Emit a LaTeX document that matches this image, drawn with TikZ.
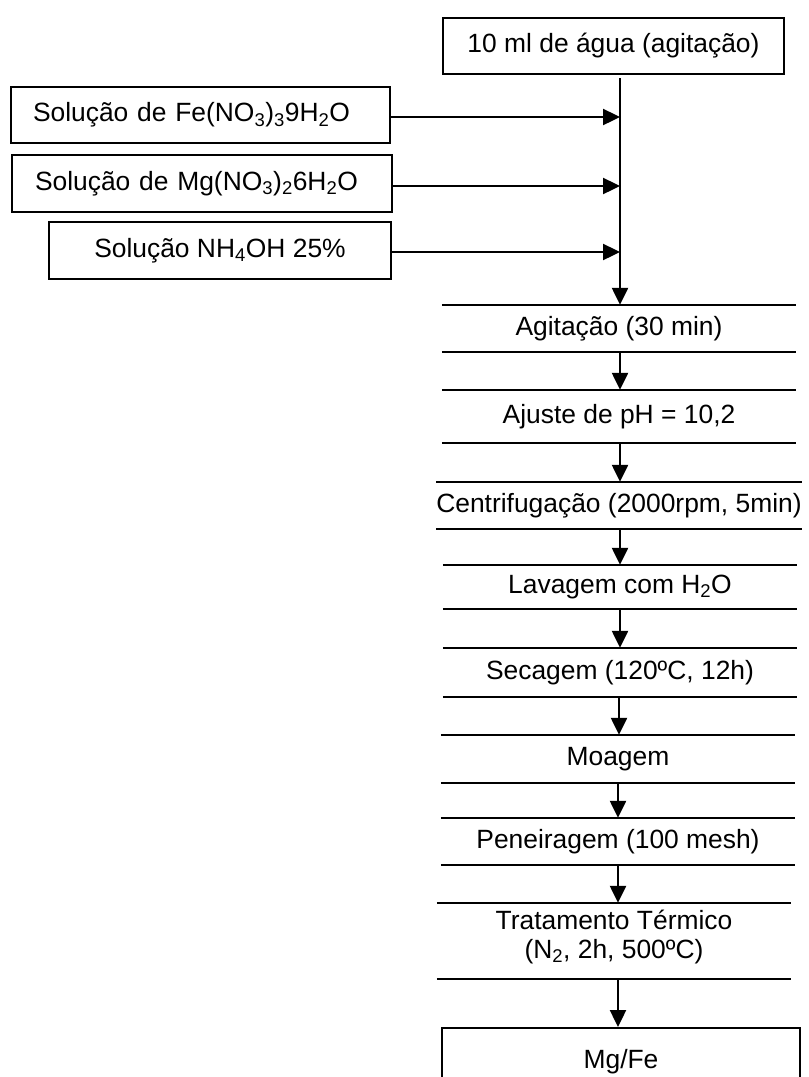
\documentclass[tikz,border=0pt]{standalone}
\usepackage{fontspec}
\setmainfont{Liberation Sans}
\usetikzlibrary{arrows.meta}
\begin{document}
\begin{tikzpicture}[x=1pt,y=-1pt,
  every node/.style={font=\fontsize{26.4}{25.5}\selectfont, inner sep=0pt},
  box/.style={draw, line width=2.4pt},
  stepbox/.style={minimum height=#1, minimum width=354pt, align=center},
  ln/.style={line width=2.4pt},
  arr/.style={line width=2.4pt, -{Triangle[length=17pt,width=16pt]}}]
\useasboundingbox (0,0) rectangle (809,1077);
\clip (0,0) rectangle (809,1077);
% top box
\node[box, minimum width=341pt, minimum height=56pt] (top) at (613.5,46) {10 ml de água (agitação)};
% side boxes
\node[box, minimum height=56pt, text width=335pt, inner xsep=22pt, align=left] (b1) at (200.5,115) {Solução de Fe(NO\textsubscript{3})\textsubscript{3}9H\textsubscript{2}O};
\node[box, minimum height=57pt, text width=334pt, inner xsep=23pt, align=left] (b2) at (202,183.5) {Solução de Mg(NO\textsubscript{3})\textsubscript{2}6H\textsubscript{2}O};
\node[box, minimum width=342pt, minimum height=57pt] (b3) at (220,250.5) {Solução NH\textsubscript{4}OH 25\%};
% steps
\node[stepbox=47pt] (s1) at (619,328.5) {Agitação (30 min)};
\node[stepbox=53pt] (s2) at (619,416.5) {Ajuste de pH = 10,2};
\node[stepbox=47pt] (s3) at (619,505.5) {Centrifugação (2000rpm, 5min)};
\node[stepbox=44pt] (s4) at (620,587) {Lavagem com H\textsubscript{2}O};
\node[stepbox=49pt] (s5) at (620,672.5) {Secagem (120ºC, 12h)};
\node[stepbox=48pt] (s6) at (618,759) {Moagem};
\node[stepbox=47pt] (s7) at (618,841.5) {Peneiragem (100 mesh)};
\node[stepbox=76pt] (s8) at (614,941) {};
\node[align=center] (s8t) at (614,937) {Tratamento Térmico\\[3pt](N\textsubscript{2}, 2h, 500ºC)};
\node[box, minimum width=358pt, minimum height=70pt, anchor=north] (fin) at (621,1027) {};
\node (fint) at (621,1062) {Mg/Fe};
% step lines
\foreach \s in {s1,s2,s3,s4,s5,s6,s7,s8}{
  \draw[ln] (\s.north west) -- (\s.north east);
  \draw[ln] (\s.south west) -- (\s.south east);
}
% main vertical
\coordinate (vt) at (620,78);
\draw[arr] (vt) -- (vt |- s1.north);
\draw[arr] (b1.east |- 0,117) -- (620,117) coordinate (j1);
\draw[arr] (b2.east |- 0,186) -- (620,186) coordinate (j2);
\draw[arr] (b3.east |- 0,252) -- (620,252) coordinate (j3);
% step arrows
\draw[arr] (s1.south -| 620,0) -- (s2.north -| 620,0);
\draw[arr] (s2.south -| 620,0) -- (s3.north -| 620,0);
\draw[arr] (s3.south -| 620,0) -- (s4.north -| 620,0);
\draw[arr] (s4.south -| 620,0) -- (s5.north -| 620,0);
\draw[arr] (s5.south -| 619,0) -- (s6.north -| 619,0);
\draw[arr] (s6.south -| 618,0) -- (s7.north -| 618,0);
\draw[arr] (s7.south -| 618,0) -- (s8.north -| 618,0);
\draw[arr] (s8.south -| 618,0) -- (fin.north -| 618,0);
\end{tikzpicture}
\end{document}
